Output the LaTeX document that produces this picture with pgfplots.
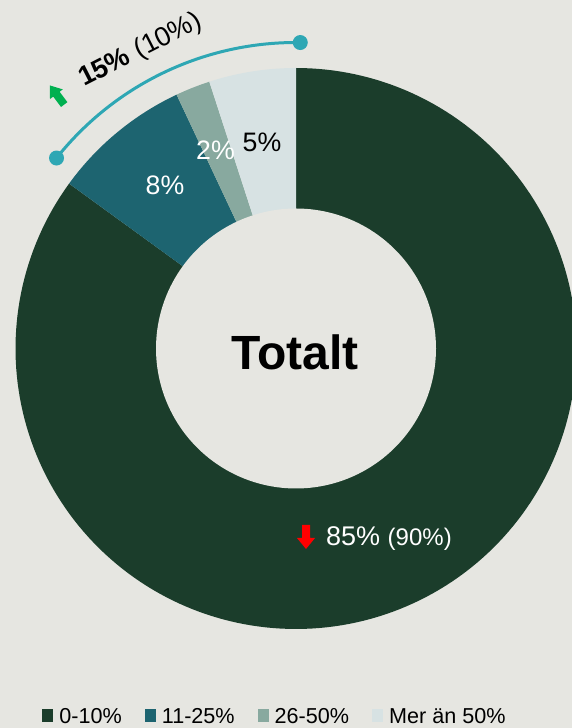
\documentclass[border=0pt]{standalone}
\usepackage{fontspec}
\setmainfont{Liberation Sans}
\usepackage{pgfplots}
\usepackage{pgfplotstable}
\pgfplotsset{compat=1.18}

\definecolor{bg}{HTML}{E6E6E1}
\definecolor{cA}{HTML}{1B3D2B}
\definecolor{cB}{HTML}{1D6470}
\definecolor{cC}{HTML}{88A99F}
\definecolor{cD}{HTML}{D7E2E3}
\definecolor{arc}{HTML}{2EA7B4}
\definecolor{up}{HTML}{00B050}

% shares in percent, clockwise from 12 o'clock
\pgfplotstableread{
group share
1 85
2 8
3 2
4 5
}\shares
\pgfplotstablegetelem{0}{share}\of\shares \let\sA\pgfplotsretval
\pgfplotstablegetelem{1}{share}\of\shares \let\sB\pgfplotsretval
\pgfplotstablegetelem{2}{share}\of\shares \let\sC\pgfplotsretval
\pgfplotstablegetelem{3}{share}\of\shares \let\sD\pgfplotsretval
\pgfmathsetmacro{\aA}{90-3.6*\sA}
\pgfmathsetmacro{\aB}{\aA-3.6*\sB}
\pgfmathsetmacro{\aC}{\aB-3.6*\sC}
\pgfmathsetmacro{\aD}{\aC-3.6*\sD}

\def\cx{296}
\def\cy{379.5}
\def\R{280.5}
\def\r{140}

\begin{document}
\begin{tikzpicture}
\begin{axis}[
    x=1pt, y=1pt,
    xmin=0, xmax=572, ymin=0, ymax=728,
    axis line style={draw=none}, ticks=none,
    axis background/.style={fill=bg},
    legend columns=4,
    legend cell align=left,
    legend image code/.code={\fill[#1] (0pt,-5pt) rectangle (11pt,7pt);},
    legend style={at={(axis cs:275,11.5)}, anchor=center, draw=none, fill=none,
        font=\fontsize{21.6}{24}\selectfont,
        /tikz/every odd column/.append style={column sep=4pt},
        /tikz/every even column/.append style={column sep=21pt}},
]
\addplot[fill=cA, draw=none, domain=\aA:90, samples=200]
    ({\cx+\R*cos(x)},{\cy+\R*sin(x)}) -- (axis cs:\cx,\cy) -- cycle;
\addlegendentry{0-10\%}
\addplot[fill=cB, draw=none, domain=\aB:\aA, samples=30]
    ({\cx+\R*cos(x)},{\cy+\R*sin(x)}) -- (axis cs:\cx,\cy) -- cycle;
\addlegendentry{11-25\%}
\addplot[fill=cC, draw=none, domain=\aC:\aB, samples=10]
    ({\cx+\R*cos(x)},{\cy+\R*sin(x)}) -- (axis cs:\cx,\cy) -- cycle;
\addlegendentry{26-50\%}
\addplot[fill=cD, draw=none, domain=\aD:\aC, samples=20]
    ({\cx+\R*cos(x)},{\cy+\R*sin(x)}) -- (axis cs:\cx,\cy) -- cycle;
\addlegendentry{Mer än 50\%}
\addplot[fill=bg, draw=none, domain=0:360, samples=181, forget plot]
    ({\cx+\r*cos(x)},{\cy+\r*sin(x)}) -- cycle;

% bracket arc over the 15 %
\draw[arc, line width=3pt] ([shift={(89.2:306pt)}]axis cs:\cx,\cy)
    arc[start angle=89.2, end angle=141.5, radius=306pt];
\fill[arc] ([shift={(89.2:306pt)}]axis cs:\cx,\cy) circle[radius=7.5pt];
\fill[arc] ([shift={(141.5:306pt)}]axis cs:\cx,\cy) circle[radius=7.5pt];

\node[anchor=base west, rotate=27, inner sep=0pt,
      font=\fontsize{27}{30}\selectfont] at (axis cs:84,641)
    {\textbf{15\%} (10\%)};
\begin{scope}[shift={(axis cs:57,633)}, rotate=127]
  \fill[up] (-12pt,-4pt) -- (1pt,-4pt) -- (1pt,-8pt) -- (12pt,0pt)
     -- (1pt,8pt) -- (1pt,4pt) -- (-12pt,4pt) -- cycle;
\end{scope}

\node[anchor=base, white, inner sep=0pt, font=\fontsize{26.7}{30}\selectfont]
    at (axis cs:165,533) {8\%};
\node[anchor=base, white, inner sep=0pt, font=\fontsize{26.7}{30}\selectfont]
    at (axis cs:215.5,568) {2\%};
\node[anchor=base, black, inner sep=0pt, font=\fontsize{26.7}{30}\selectfont]
    at (axis cs:262,576) {5\%};
\node[anchor=base, inner sep=0pt, font=\fontsize{48}{54}\selectfont\bfseries]
    at (axis cs:295,358.7) {Totalt};

\node[anchor=base west, white, inner sep=0pt, font=\fontsize{27}{30}\selectfont]
    at (axis cs:326,182) {85\% {\fontsize{24}{28}\selectfont(90\%)}};
\begin{scope}[shift={(axis cs:306,191)}, rotate=-90]
  \fill[red] (-12pt,-4pt) -- (1pt,-4pt) -- (1pt,-9pt) -- (12pt,0pt)
     -- (1pt,9pt) -- (1pt,4pt) -- (-12pt,4pt) -- cycle;
\end{scope}

\coordinate (ll) at (rel axis cs:0,0);
\coordinate (ur) at (rel axis cs:1,1);
\end{axis}
\pgfresetboundingbox
\path[use as bounding box] (ll) rectangle (ur);
\end{tikzpicture}
\end{document}
